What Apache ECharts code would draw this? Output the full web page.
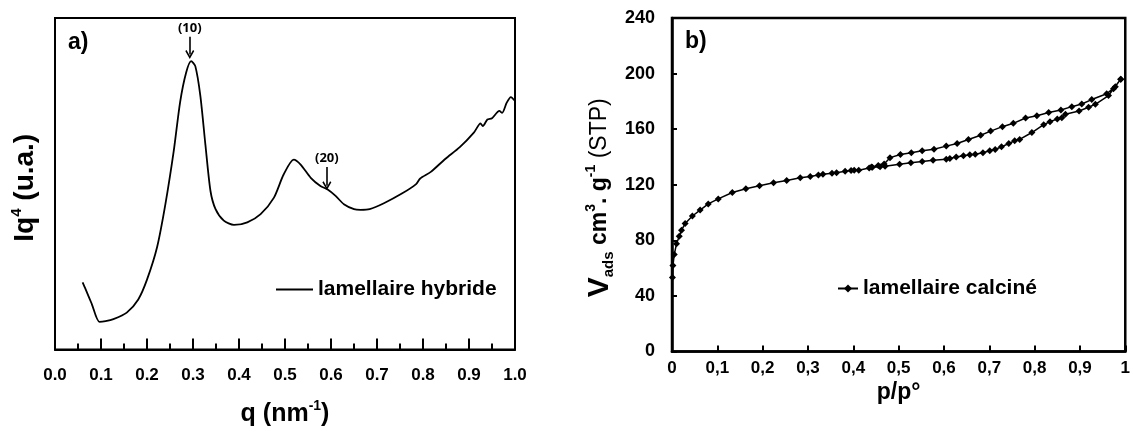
<!DOCTYPE html>
<html>
<head>
<meta charset="utf-8">
<title>lamellaire</title>
<script src="https://cdn.jsdelivr.net/npm/echarts@6/dist/echarts.min.js"></script>
<style>
    body { margin: 0; background: #fff; }
    #chart { width: 1133px; height: 432px; }
</style>
</head>
<body>
<div id="chart"></div>
<script>
// a) SAXS : q (nm-1) / Iq4 (u.a., échelle arbitraire 0-100)
var qData = [0.060, 0.066, 0.080, 0.0965, 0.110, 0.127, 0.156, 0.181, 0.200, 0.222, 0.240, 0.258, 0.272, 0.285, 0.296, 0.305,
    0.316, 0.327, 0.338, 0.349, 0.367, 0.389, 0.418, 0.447, 0.476, 0.497, 0.519, 0.534, 0.556, 0.577, 0.592, 0.610,
    0.628, 0.650, 0.664, 0.684, 0.715, 0.755, 0.785, 0.794, 0.817, 0.849, 0.880, 0.911, 0.925, 0.930, 0.940, 0.950,
    0.966, 0.972, 0.982, 0.991, 1.0];
var iq4Data = [20.4, 18.5, 13.8, 8.4, 8.6, 9.2, 11.2, 15.2, 21.2, 31.1, 44.1, 60.1, 75.1, 84.0, 87.5, 86.0,
    77.0, 62.1, 48.1, 42.6, 39.1, 37.8, 38.6, 41.1, 46.1, 53.1, 57.6, 56.1, 52.1, 49.6, 48.6, 46.6,
    44.1, 42.6, 42.4, 42.6, 44.4, 47.4, 50.2, 51.9, 53.9, 57.9, 61.4, 65.9, 68.6, 67.8, 69.8, 70.2,
    72.4, 71.8, 74.9, 76.6, 75.4];
var qTicks = ['0.0', '0.1', '0.2', '0.3', '0.4', '0.5', '0.6', '0.7', '0.8', '0.9', '1.0'];

// b) isotherme N2 : adsorption puis désorption
var adsP = [0.001, 0.002, 0.005, 0.010, 0.016, 0.021, 0.029, 0.045, 0.062, 0.080, 0.102, 0.133, 0.163, 0.193, 0.224, 0.253,
    0.283, 0.305, 0.323, 0.333, 0.353, 0.363, 0.382, 0.395, 0.402, 0.412, 0.435, 0.442, 0.459, 0.470, 0.502, 0.527,
    0.552, 0.576, 0.605, 0.613, 0.627, 0.643, 0.657, 0.669, 0.686, 0.701, 0.713, 0.727, 0.743, 0.756, 0.767, 0.794,
    0.820, 0.834, 0.850, 0.860, 0.868, 0.898, 0.919, 0.934, 0.963, 0.974, 0.990];
var adsV = [53.3, 61.8, 69.8, 77.6, 82.9, 87.3, 92.1, 97.5, 101.8, 106.2, 109.8, 114.4, 117.1, 119.3, 121.5, 123.1,
    125.1, 126.0, 127.0, 127.5, 128.2, 128.7, 129.7, 130.2, 130.4, 130.4, 132.1, 132.6, 133.0, 133.3, 134.8, 135.8,
    136.7, 137.7, 138.4, 138.9, 139.9, 140.8, 141.5, 142.0, 143.0, 144.4, 145.4, 147.3, 149.7, 151.7, 152.6, 157.6,
    163.2, 165.4, 167.3, 168.3, 170.7, 173.1, 175.8, 177.9, 184.2, 189.1, 196.0];
var desP = [0.990, 0.978, 0.959, 0.926, 0.904, 0.882, 0.858, 0.831, 0.805, 0.780, 0.753, 0.729, 0.703, 0.681, 0.654,
    0.629, 0.605, 0.578, 0.552, 0.528, 0.504, 0.481, 0.468, 0.455, 0.440];
var desV = [196.0, 190.6, 185.5, 181.3, 178.1, 176.2, 173.8, 172.0, 169.6, 168.0, 164.2, 161.8, 158.6, 155.6, 152.6,
    149.7, 147.8, 145.6, 144.4, 143.0, 141.8, 139.5, 135.0, 133.8, 132.8];
var pTicks = ['0', '0,1', '0,2', '0,3', '0,4', '0,5', '0,6', '0,7', '0,8', '0,9', '1'];

var FONT = 'Liberation Sans';

function zip(xs, ys) {
    var out = [];
    for (var i = 0; i < xs.length; i++) out.push([xs[i], ys[i]]);
    return out;
}

showCharts();

function showCharts() {
    var myChart = echarts.init(document.getElementById('chart'));
    // flèche ouverte pour les pics (10) et (20)
    var chevron = 'path://M5,0 L10,9 L8.6,10 L5,3.6 L1.4,10 L0,9 Z';
    var option = {
        animation: false,
        grid: [
            {left: 55, right: 618, top: 18, bottom: 77, show: true, borderColor: '#000', borderWidth: 2},
            {left: 672, right: 4, top: 18, bottom: 80.5, show: true, borderColor: '#000', borderWidth: 2.5}
        ],
        xAxis: [
            {
                gridIndex: 0, type: 'value', min: 0, max: 1, interval: 0.1,
                axisLine: {lineStyle: {color: '#000', width: 2}},
                axisTick: {inside: true, length: 11, lineStyle: {color: '#000', width: 2}},
                minorTick: {show: true, splitNumber: 2, length: 6, lineStyle: {color: '#000', width: 2}},
                splitLine: {show: false},
                axisLabel: {
                    margin: 17, color: '#000', fontFamily: FONT, fontWeight: 'bold', fontSize: 17,
                    formatter: function (v) { return qTicks[Math.round(v * 10)]; }
                },
                name: '{b|q (nm}{s|-1}{b|)}', nameLocation: 'middle', nameGap: 50,
                nameTextStyle: {
                    rich: {
                        b: {fontFamily: FONT, fontWeight: 'bold', fontSize: 25, color: '#000', lineHeight: 30},
                        s: {fontFamily: FONT, fontWeight: 'bold', fontSize: 14, color: '#000', lineHeight: 14, verticalAlign: 'top'}
                    }
                }
            },
            {
                gridIndex: 1, type: 'value', min: 0, max: 1, interval: 0.1,
                axisLine: {lineStyle: {color: '#000', width: 2.5}},
                axisTick: {inside: true, length: 6, lineStyle: {color: '#000', width: 2}},
                splitLine: {show: false},
                axisLabel: {
                    margin: 8, color: '#000', fontFamily: FONT, fontWeight: 'bold', fontSize: 17,
                    formatter: function (v) { return pTicks[Math.round(v * 10)]; }
                },
                name: 'p/p°', nameLocation: 'middle', nameGap: 19,
                nameTextStyle: {fontFamily: FONT, fontWeight: 'bold', fontSize: 23, color: '#000'}
            }
        ],
        yAxis: [
            {
                gridIndex: 0, type: 'value', min: 0, max: 100.6,
                axisLine: {show: true, lineStyle: {color: '#000', width: 2}},
                axisTick: {show: false},
                axisLabel: {show: false},
                splitLine: {show: false},
                name: '{b|Iq}{s|4}{b| (u.a.)}', nameLocation: 'middle', nameRotate: 90, nameGap: 14,
                nameTextStyle: {
                    padding: [0, 8, 0, 0],
                    rich: {
                        b: {fontFamily: FONT, fontWeight: 'bold', fontSize: 28, color: '#000', lineHeight: 32},
                        s: {fontFamily: FONT, fontWeight: 'bold', fontSize: 15, color: '#000', lineHeight: 15, verticalAlign: 'top'}
                    }
                }
            },
            {
                gridIndex: 1, type: 'value', min: 0, max: 240, interval: 40,
                axisLine: {show: true, lineStyle: {color: '#000', width: 2.5}},
                axisTick: {inside: true, length: 5, lineStyle: {color: '#000', width: 2}},
                axisLabel: {margin: 17, color: '#000', fontFamily: FONT, fontWeight: 'bold', fontSize: 18},
                splitLine: {show: false},
                name: '{v|V}{sub|ads}{b| cm}{s|3}{b|. g}{s|-1}{r| (STP)}',
                nameLocation: 'middle', nameRotate: 90, nameGap: 56,
                nameTextStyle: {
                    padding: [0, 26, 0, 0],
                    rich: {
                        v: {fontFamily: FONT, fontWeight: 'bold', fontSize: 30, color: '#000', lineHeight: 32},
                        sub: {fontFamily: FONT, fontWeight: 'bold', fontSize: 15, color: '#000', lineHeight: 15, verticalAlign: 'bottom'},
                        b: {fontFamily: FONT, fontWeight: 'bold', fontSize: 23, color: '#000', lineHeight: 30},
                        s: {fontFamily: FONT, fontWeight: 'bold', fontSize: 14, color: '#000', lineHeight: 14, verticalAlign: 'top'},
                        r: {fontFamily: FONT, fontSize: 23, color: '#000', lineHeight: 30}
                    }
                }
            }
        ],
        legend: [
            {
                data: ['lamellaire hybride'], left: 270, top: 274, itemWidth: 37, itemHeight: 14,
                itemStyle: {opacity: 0},
                textStyle: {fontFamily: FONT, fontWeight: 'bold', fontSize: 21, color: '#000'}
            },
            {
                data: ['lamellaire calciné'], left: 832, top: 273, itemWidth: 20, itemHeight: 10,
                textStyle: {fontFamily: FONT, fontWeight: 'bold', fontSize: 21, color: '#000'}
            }
        ],
        graphic: [
            {type: 'text', left: 68, top: 31, style: {text: 'a)', fontFamily: FONT, fontWeight: 'bold', fontSize: 23, fill: '#000'}},
            {type: 'text', left: 685, top: 30, style: {text: 'b)', fontFamily: FONT, fontWeight: 'bold', fontSize: 23, fill: '#000'}}
        ],
        series: [
            {
                name: 'lamellaire hybride',
                type: 'line',
                xAxisIndex: 0, yAxisIndex: 0,
                data: zip(qData, iq4Data),
                symbol: 'none',
                smooth: 0.25,
                lineStyle: {color: '#000', width: 1.8},
                itemStyle: {color: '#000'},
                markLine: {
                    silent: true,
                    symbol: ['none', chevron],
                    symbolSize: [9, 9],
                    lineStyle: {color: '#000', width: 1.6, type: 'solid'},
                    label: {
                        show: true, position: 'start', distance: 2, formatter: '{b}',
                        fontFamily: 'Open Sans', fontWeight: 'bold', fontSize: 13, color: '#000'
                    },
                    data: [
                        [{name: '(10)', coord: [0.293, 94.9]}, {coord: [0.293, 89.5]}],
                        [{name: '(20)', coord: [0.591, 55.4]}, {coord: [0.591, 49.7]}]
                    ]
                }
            },
            {
                name: 'lamellaire calciné',
                type: 'line',
                xAxisIndex: 1, yAxisIndex: 1,
                data: zip(adsP, adsV).concat(zip(desP, desV)),
                symbol: 'diamond',
                symbolSize: 7,
                showAllSymbol: true,
                lineStyle: {color: '#000', width: 1.5},
                itemStyle: {color: '#000'}
            }
        ]
    };
    myChart.setOption(option);
}
</script>
</body>
</html>
